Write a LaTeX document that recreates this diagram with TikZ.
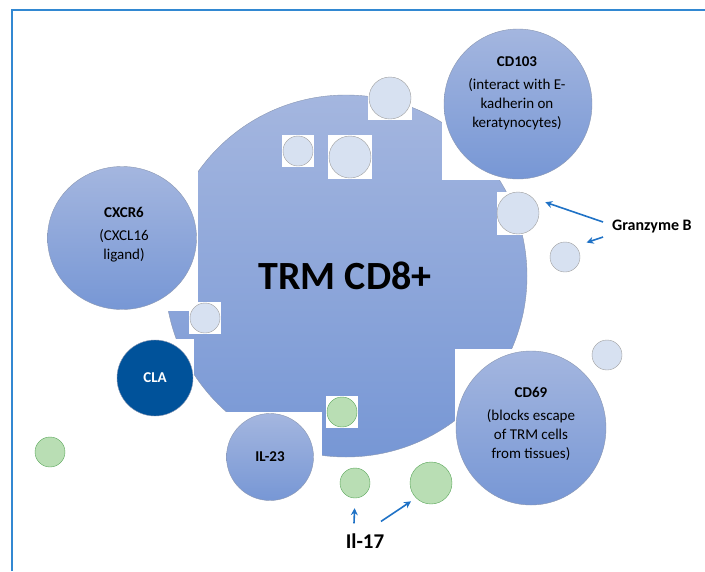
\documentclass[tikz,border=0pt]{standalone}
\usepackage{fontspec}
\setmainfont{Carlito}
\usetikzlibrary{shapes.geometric, arrows.meta}
\definecolor{celltop}{HTML}{A4B6DF}
\definecolor{cellbot}{HTML}{7797D5}
\definecolor{celledge}{HTML}{8A97B2}
\definecolor{cladark}{HTML}{00529A}
\definecolor{bubblue}{HTML}{D7E1F1}
\definecolor{bubgreen}{HTML}{B9DEB4}
\definecolor{arrowblue}{HTML}{1F72C6}
\definecolor{frameblue}{HTML}{3288D2}
\tikzstyle{cell} = [ellipse, draw=celledge, thin, top color=celltop,
    bottom color=cellbot, inner sep=0pt]
\tikzstyle{patch} = [rectangle, fill=white, inner sep=0pt]
\tikzstyle{bub} = [circle, draw=gray!75, thin, fill=bubblue, inner sep=0pt]
\tikzstyle{gbub} = [circle, draw=gray!70!green, thin, fill=bubgreen, inner sep=0pt]
\tikzstyle{txt} = [align=center, inner sep=0pt, font=\fontsize{15}{19}\selectfont]
\tikzstyle{arr} = [-{Stealth[length=7pt,width=7pt]}, arrowblue, line width=1.6pt]

\begin{document}
\begin{tikzpicture}[x=1pt,y=-1pt]
	\useasboundingbox (0,0) rectangle (705,571);

	% frame
	\draw[frameblue, line width=1.6pt] (12,571) |- (705,10);

	% the big cell
	\node[cell, circle, minimum size=362pt] (trm) at (346,276) {};

	% white backgrounds of the pasted pictures
	\node[patch, minimum width=152pt, minimum height=152pt] (p103) at (518,104) {};
	\node[patch, minimum width=152pt, minimum height=146pt] (pcx) at (122,238) {};
	\node[patch, minimum size=78pt] (pcla) at (155,378) {};
	\node[patch, minimum width=97pt, minimum height=90pt] (pil) at (273.5,457) {};
	\node[patch, minimum width=152pt, minimum height=158pt] (p69) at (531,428) {};
	\node[patch, minimum size=32pt] (ps1) at (298,151) {};
	\node[patch, minimum size=44pt] (ps2) at (350,157) {};
	\node[patch, minimum size=44pt] (ps3) at (390,98) {};
	\node[patch, minimum size=43pt] (pgz1) at (518,213) {};
	\node[patch, minimum size=32pt] (ps4) at (205,318) {};
	\node[patch, minimum size=32pt] (pg0) at (342,412) {};

	% receptors
	\node[cell, minimum width=148pt, minimum height=150pt] (cd103) at (518,104) {};
	\node[cell, minimum width=149pt, minimum height=143pt] (cxcr6) at (122,238) {};
	\node[cell, minimum width=150pt, minimum height=154pt] (cd69) at (531,428) {};
	\node[cell, minimum size=87pt] (il23) at (270,457) {};
	\node[circle, draw=celledge, thin, fill=cladark, minimum size=76pt] (cla) at (155,378) {};

	% small bubbles
	\node[bub, minimum size=30pt] (s1) at (298,151) {};
	\node[bub, minimum size=42pt] (s2) at (350,157) {};
	\node[bub, minimum size=42pt] (s3) at (390,98) {};
	\node[bub, minimum size=42pt] (gz1) at (518,213) {};
	\node[bub, minimum size=30pt] (gz2) at (565,257) {};
	\node[bub, minimum size=30pt] (s4) at (205,318) {};
	\node[bub, minimum size=30pt] (s5) at (607,355) {};
	\node[gbub, minimum size=30pt] (g0) at (342,412) {};
	\node[gbub, minimum size=30pt] (g1) at (355,483) {};
	\node[gbub, minimum size=42pt] (g2) at (431,483) {};
	\node[gbub, minimum size=30pt] (g3) at (50,452) {};

	% texts
	\node[txt, font=\bfseries\fontsize{40}{40}\selectfont] (trmtxt) at (345,276) {TRM CD8+};
	\node[txt] (cd103txt) at (517,93) {\textbf{CD103}\\[4pt](interact with E-\\kadherin on\\keratynocytes)};
	\node[txt] (cxcr6txt) at (124,235) {\textbf{CXCR6}\\[4pt](CXCL16\\ligand)};
	\node[txt] (cd69txt) at (531,424) {\textbf{CD69}\\[4pt](blocks escape\\of TRM cells\\from tissues)};
	\node[txt, font=\bfseries\fontsize{15}{19}\selectfont] (il23txt) at (il23) {IL-23};
	\node[txt, font=\bfseries\fontsize{15}{19}\selectfont, text=white] (clatxt) at (cla) {CLA};
	\node[txt, font=\bfseries\fontsize{16}{16}\selectfont, anchor=west] (gzb) at (612,227) {Granzyme B};
	\node[txt, font=\bfseries\fontsize{21}{21}\selectfont] (il17) at (365,541) {Il-17};

	% pointers
	\draw[arr, shorten >=13pt] ([shift={(-9,-5)}]gzb.west) -- (gz1.north east);
	\draw[arr, shorten >=11.5pt] ([shift={(-9,10)}]gzb.west) -- (gz2.north east);
	\draw[arr, shorten >=10pt] ([shift={(-11,-10)}]il17.north) -- (g1.south);
	\draw[arr, shorten >=6pt] ([shift={(16,-12)}]il17.north) -- (g2.south west);
\end{tikzpicture}
\end{document}
